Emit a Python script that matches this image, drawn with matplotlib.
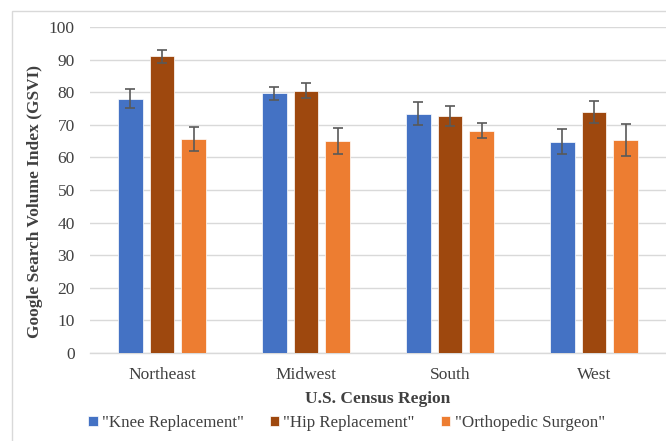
import matplotlib
matplotlib.use("Agg")
import matplotlib.pyplot as plt
import numpy as np
from matplotlib.patches import Rectangle

regions = ["Northeast", "Midwest", "South", "West"]
series_names = ['"Knee Replacement"', '"Hip Replacement"', '"Orthopedic Surgeon"']
knee = [78.0, 79.7, 73.4, 64.8]
hip = [91.0, 80.5, 72.7, 73.8]
ortho = [65.6, 65.1, 68.1, 65.3]
knee_err = [2.9, 2.0, 3.5, 3.8]
hip_err = [2.0, 2.3, 3.0, 3.4]
ortho_err = [3.6, 4.0, 2.3, 4.8]
colors = ["#4472C4", "#9E480E", "#ED7D31"]

plt.rcParams['font.family'] = ['Liberation Serif', 'DejaVu Serif']

fig = plt.figure(figsize=(6.66, 4.41), dpi=100)
fig.patches.append(Rectangle((12/666, -0.1), 1.2, 1 - 11/441 + 0.1, transform=fig.transFigure,
                             fill=False, edgecolor="#D9D9D9", linewidth=1.0))
ax = fig.add_axes([90/666, 1 - 353/441, 1 - 90/666, (353 - 27)/441])

x = np.arange(len(regions))
w = 0.173
step = 0.221
data = [knee, hip, ortho]
errs = [knee_err, hip_err, ortho_err]
for i, (vals, er, c, name) in enumerate(zip(data, errs, colors, series_names)):
    ax.bar(x + (i - 1) * step, vals, width=w, color=c, label=name, zorder=3,
           edgecolor="white", linewidth=0.5,
           yerr=er, error_kw=dict(ecolor="#595959", elinewidth=1.2, capsize=3.5, capthick=1.2, zorder=4))

ax.set_xlim(-0.5, len(regions) - 0.5)
ax.set_ylim(0, 100)
ax.set_yticks(range(0, 101, 10))
ax.set_xticks(x)
ax.set_xticklabels(regions)
ax.yaxis.grid(True, color="#D9D9D9", linewidth=1.0, zorder=0)
for s in ["top", "right", "left"]:
    ax.spines[s].set_visible(False)
ax.spines["bottom"].set_color("#D9D9D9")
ax.spines["bottom"].set_linewidth(1.0)
ax.tick_params(axis="both", length=0, labelsize=12.5, colors="#404040")
ax.tick_params(axis="y", pad=11)
ax.tick_params(axis="x", pad=10)
ax.set_xlabel("U.S. Census Region", fontsize=12.5, fontweight="bold", color="#404040", labelpad=6)
fig.text(35/666, 1 - 201/441, "Google Search Volume Index (GSVI)", rotation=90, ha="center", va="center",
         fontsize=12.5, fontweight="bold", color="#404040")

fig.legend(loc="center", bbox_to_anchor=(346.5/666, 1 - 423/441), ncol=3, frameon=False,
           fontsize=12.2, handlelength=0.55, handleheight=0.55, handletextpad=0.25, columnspacing=1.55,
           labelcolor="#404040")

fig.savefig("out.png", dpi=100)
